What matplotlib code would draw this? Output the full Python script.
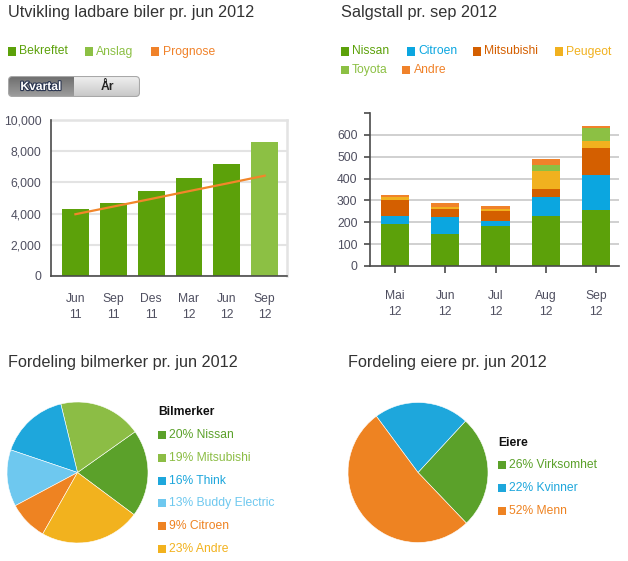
import numpy as np
import matplotlib
matplotlib.use("Agg")
import matplotlib.pyplot as plt
from matplotlib.patches import Rectangle, FancyBboxPatch
import matplotlib.patheffects as pe

plt.rcParams['font.family'] = ['Liberation Sans', 'DejaVu Sans']

# --- data ---
kvartaler = ["Jun\n11", "Sep\n11", "Des\n11", "Mar\n12", "Jun\n12", "Sep\n12"]
bekreftet = [4300, 4690, 5460, 6300, 7200]
anslag = [8620]
prognose = [3960, 4450, 4940, 5440, 5930, 6430]

maaneder = ["Mai\n12", "Jun\n12", "Jul\n12", "Aug\n12", "Sep\n12"]
merker = ["Nissan", "Citroen", "Mitsubishi", "Peugeot", "Toyota", "Andre"]
nissan = [193, 147, 184, 230, 257]
citroen = [36, 75, 21, 85, 158]
mitsubishi = [75, 39, 47, 36, 123]
peugeot = [11, 9, 9, 82, 32]
toyota = [0, 0, 0, 27, 61]
andre = [9, 17, 12, 28, 9]

bilmerker = ["Nissan", "Mitsubishi", "Think", "Buddy Electric", "Citroen", "Andre"]
bilmerker_andel = [20, 19, 16, 13, 9, 23]
eiere = ["Virksomhet", "Kvinner", "Menn"]
eiere_andel = [26, 22, 52]

# colours
GREEN = "#5ca10a"
LGREEN = "#8cc044"
ORANGE = "#f0822a"
BLUE = "#0ba6e0"
DORANGE = "#d45f00"
YELLOW = "#f1b11f"
stack_colors = [GREEN, BLUE, DORANGE, YELLOW, LGREEN, ORANGE]
pie1_colors = ["#5ba12a", "#8cbd45", "#1ea7dc", "#6ec8ef", "#ee8322", "#f2b21e"]
pie2_colors = ["#5ba12a", "#1ea7dc", "#ee8322"]

TXT = "#333333"
TICK = "#4f4f60"
AX = "#4a4a4a"

W, H = 628, 561
fig = plt.figure(figsize=(W / 100, H / 100), dpi=100)


def rect(l, t, r, b):
    return [l / W, 1 - b / H, (r - l) / W, (b - t) / H]


def ftext(x, y, s, **kw):
    fig.text(x / W, 1 - y / H, s, **kw)


def square(x, y, c, s=8):
    fig.add_artist(Rectangle((x / W, 1 - (y + s / 2) / H), s / W, s / H,
                             transform=fig.transFigure, color=c, lw=0))


TITLE = 11.7
SMALL = 8.7

# --- titles ---
ftext(8, 13, "Utvikling ladbare biler pr. jun 2012", fontsize=TITLE, color=TXT, va="center")
ftext(341, 13, "Salgstall pr. sep 2012", fontsize=TITLE, color=TXT, va="center")
ftext(8, 363, "Fordeling bilmerker pr. jun 2012", fontsize=TITLE, color=TXT, va="center")
ftext(348, 363, "Fordeling eiere pr. jun 2012", fontsize=TITLE, color=TXT, va="center")

# --- legend top left ---
for mx, tx, lab, c in [(8, 19, "Bekreftet", GREEN), (85, 96, "Anslag", LGREEN), (151, 163, "Prognose", ORANGE)]:
    square(mx, 51.5, c)
    ftext(tx, 51.5, lab, fontsize=SMALL, color=c, va="center")

# --- toggle button ---
bax = fig.add_axes(rect(8, 76, 140, 97))
bax.set_axis_off()
img = np.zeros((21, 132, 3))
for i in range(21):
    f = i / 20
    img[i, :66] = 0.42 + 0.2 * f
    img[i, 66:] = 0.95 - 0.17 * f
bim = bax.imshow(img, extent=(0, 132, 21, 0), aspect="auto")
clip = FancyBboxPatch((0.5, 0.5), 131, 20, boxstyle="round,pad=0,rounding_size=4",
                      transform=bax.transData, fc="none", ec="#a8a8a8", lw=0.8)
bax.add_patch(clip)
bim.set_clip_path(clip)
bax.set_xlim(0, 132)
bax.set_ylim(21, 0)
bax.text(33, 11, "Kvartal", fontsize=SMALL, fontweight="bold", color="white", ha="center", va="center",
         path_effects=[pe.withStroke(linewidth=1.6, foreground="#2a3550")])
bax.text(99, 11, "År", fontsize=SMALL, fontweight="bold", color="#222222", ha="center", va="center")

# --- bar chart top left ---
ax1 = fig.add_axes(rect(51, 120, 287, 276))
x1 = np.arange(len(kvartaler))
ax1.bar(x1[:len(bekreftet)], bekreftet, width=0.71, color=GREEN, zorder=2)
ax1.bar(x1[len(bekreftet):], anslag, width=0.71, color=LGREEN, zorder=2)
ax1.plot(x1, prognose, color="#f2862a", lw=1.6, zorder=3)
ax1.set_xlim(-0.645, 5.59)
ax1.set_ylim(0, 10000)
ax1.set_yticks(range(0, 10001, 2000))
ax1.set_yticklabels([f"{v:,}" for v in range(0, 10001, 2000)])
ax1.set_xticks(x1)
ax1.set_xticklabels(kvartaler, linespacing=1.5)
ax1.tick_params(axis="y", length=0, pad=7, labelsize=SMALL, labelcolor=TICK)
ax1.tick_params(axis="x", length=0, pad=12, labelsize=SMALL, labelcolor=TICK)
ax1.grid(axis="y", color="#e3e3e3", lw=1.5, zorder=0)
for s in ["top", "right"]:
    ax1.spines[s].set_color("#e3e3e3")
    ax1.spines[s].set_linewidth(1.8)
for s in ["left", "bottom"]:
    ax1.spines[s].set_color(AX)
    ax1.spines[s].set_linewidth(1.2)
    ax1.spines[s].set_zorder(4)

# --- legend top right ---
leg_pos = [(341, 352, 51.5), (407, 418, 51.5), (473, 484, 51.5), (555, 566, 51.5),
           (341, 352, 70), (402, 414, 70)]
for (mx, tx, y), lab, c in zip(leg_pos, merker, stack_colors):
    square(mx, y, c)
    ftext(tx, y, lab, fontsize=SMALL, color=c, va="center")

# --- stacked bar chart top right ---
ax2 = fig.add_axes(rect(370, 113, 619, 266))
x2 = np.arange(len(maaneder))
bottom = np.zeros(len(maaneder))
for serie, c in zip([nissan, citroen, mitsubishi, peugeot, toyota, andre], stack_colors):
    ax2.bar(x2, serie, bottom=bottom, width=0.56, color=c, zorder=2)
    bottom += np.array(serie)
ax2.set_xlim(-0.5, 4.46)
ax2.set_ylim(0, 700)
ax2.set_yticks(range(0, 701, 100))
ax2.set_yticklabels([str(v) if v < 700 else "" for v in range(0, 701, 100)])
for v in range(100, 601, 100):
    ax2.axhline(v, color="#c8c8c8", lw=1.2, zorder=0)
ax2.set_xticks(x2)
ax2.set_xticklabels(maaneder, linespacing=1.5)
ax2.tick_params(axis="y", length=4, width=1.2, color=AX, pad=5, labelsize=SMALL, labelcolor=TICK)
ax2.tick_params(axis="x", length=5, width=1.2, color=AX, pad=12, labelsize=SMALL, labelcolor=TICK)
for s in ["top", "right"]:
    ax2.spines[s].set_visible(False)
for s in ["left", "bottom"]:
    ax2.spines[s].set_color(AX)
    ax2.spines[s].set_linewidth(1.2)

# --- pie bilmerker ---
ax3 = fig.add_axes(rect(7, 402, 148, 543))
ax3.pie(bilmerker_andel, colors=pie1_colors, startangle=-36.7, counterclock=True,
        wedgeprops=dict(edgecolor="white", lw=0.4))
ax3.set_xlim(-1, 1)
ax3.set_ylim(-1, 1)
ftext(158, 412, "Bilmerker", fontsize=SMALL, fontweight="bold", color="#111111", va="center")
for i, (navn, v, c) in enumerate(zip(bilmerker, bilmerker_andel, pie1_colors)):
    y = 434.7 + i * 22.9
    square(158, y, c)
    ftext(169, y, f"{v}% {navn}", fontsize=SMALL, color=c, va="center")

# --- pie eiere ---
ax4 = fig.add_axes(rect(348, 402.5, 488, 542.5))
ax4.pie(eiere_andel, colors=pie2_colors, startangle=-46.3, counterclock=True,
        wedgeprops=dict(edgecolor="white", lw=0.4))
ax4.set_xlim(-1, 1)
ax4.set_ylim(-1, 1)
ftext(498, 442.5, "Eiere", fontsize=SMALL, fontweight="bold", color="#111111", va="center")
for i, (navn, v, c) in enumerate(zip(eiere, eiere_andel, pie2_colors)):
    y = 465 + i * 22.9
    square(498, y, c)
    ftext(509, y, f"{v}% {navn}", fontsize=SMALL, color=c, va="center")

fig.savefig("out.png", dpi=100)
